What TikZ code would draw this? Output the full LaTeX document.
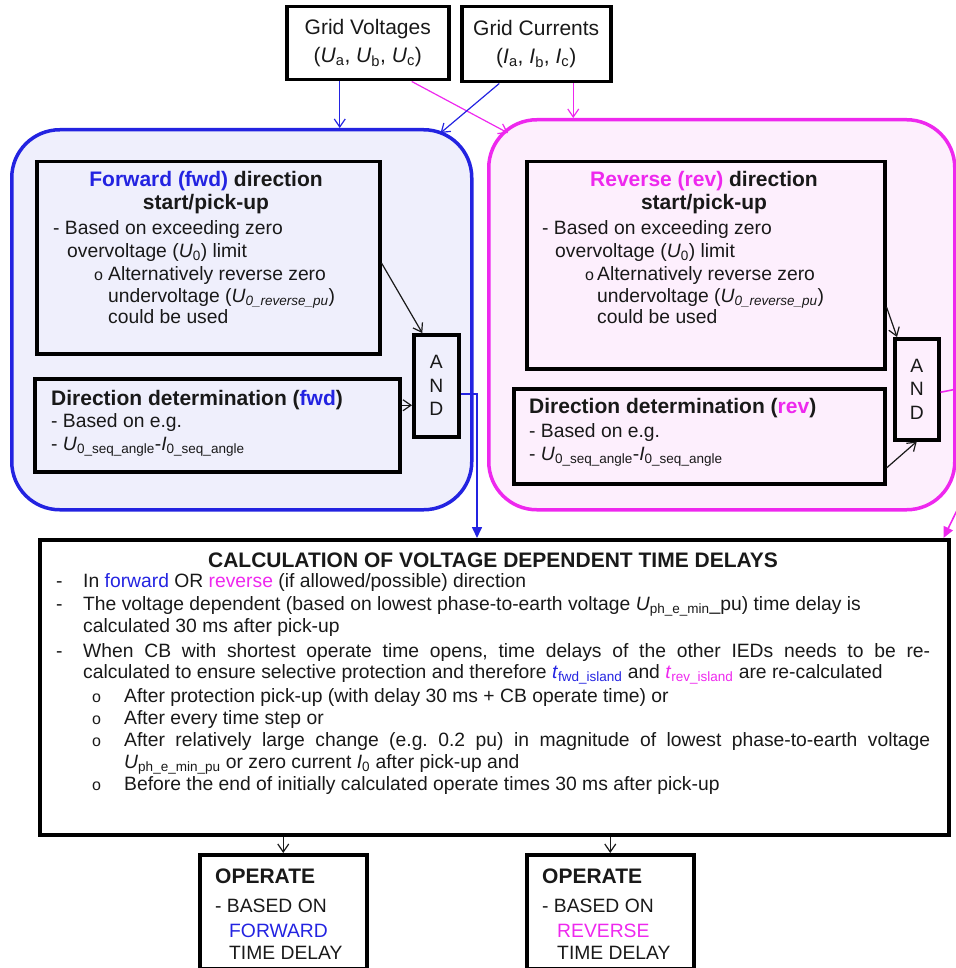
\documentclass[tikz,border=0pt]{standalone}
\usepackage{fontspec}
\setmainfont{Liberation Sans}
\usetikzlibrary{arrows.meta}
\definecolor{fwdblue}{RGB}{35,35,225}
\definecolor{revmag}{RGB}{238,40,238}
\definecolor{fwdfill}{RGB}{239,239,252}
\definecolor{revfill}{RGB}{253,239,253}
\definecolor{ink}{RGB}{25,25,25}
\newcommand\rgsize{\fontsize{19.3}{22.5}\selectfont}
\newcommand\hdsize{\fontsize{21}{23}\selectfont}
\newcommand\fw[1]{\textcolor{fwdblue}{#1}}
\newcommand\rv[1]{\textcolor{revmag}{#1}}
\newcommand\obul{{\fontsize{16}{16}\selectfont o}}
\frenchspacing
\begin{document}
\begin{tikzpicture}[x=1pt,y=-1pt,
  blk/.style={draw=black, line width=3.5pt, inner sep=0pt, anchor=north west},
  grp/.style={line width=3.5pt, rounded corners=48pt, inner sep=0pt, anchor=north west},
  txt/.style={anchor=base west, inner sep=0pt, font=\rgsize, text=ink},
  hd/.style={anchor=base, inner sep=0pt, font=\hdsize\bfseries, text=ink},
  link/.style={line width=1.2pt, -{Straight Barb[length=8pt,width=11pt]}},
  outlink/.style={line width=1.6pt, -{Triangle[length=11pt,width=10pt]}},
]
\useasboundingbox (0,0) rectangle (955,968);

% group frames
\node[grp, draw=fwdblue, fill=fwdfill, minimum width=460pt, minimum height=380pt] (fgrp) at (10,128) {};
\node[grp, draw=revmag, fill=revfill, minimum width=466pt, minimum height=390pt] (rgrp) at (487,118) {};

% input boxes
\node[blk, minimum width=162pt, minimum height=73pt, align=center, font=\fontsize{21}{28}\selectfont, text=ink] (gv) at (285,5)
  {Grid Voltages\\(\textit{U}\textsubscript{a}, \textit{U}\textsubscript{b}, \textit{U}\textsubscript{c})};
\node[blk, minimum width=149pt, minimum height=75pt, align=center, font=\fontsize{21}{28}\selectfont, text=ink] (gc) at (460,5)
  {Grid Currents\\(\textit{I}\textsubscript{a}, \textit{I}\textsubscript{b}, \textit{I}\textsubscript{c})};

% forward branch
\node[blk, minimum width=343pt, minimum height=192pt] (fstart) at (35,160) {};
\node[blk, minimum width=365pt, minimum height=93pt] (fdir) at (33,377) {};
\node[blk, minimum width=45pt, minimum height=102pt, align=center, font=\fontsize{19.3}{23.5}\selectfont, text=ink] (fand) at (412,333) {A\\N\\D};

\node[hd] (fh1) at (206,187) {\fw{Forward (fwd)} direction};
\node[hd] (fh2) at (206,210) {start/pick-up};
\node[txt] (fa1) at (53,235) {- Based on exceeding zero};
\node[txt] (fa2) at (67,257) {overvoltage (\textit{U}\textsubscript{0}) limit};
\node[txt] (fab) at (94,280) {\obul};
\node[txt] (fa3) at (108,280) {Alternatively reverse zero};
\node[txt] (fa4) at (108,302) {undervoltage (\textit{U}\textsubscript{\textit{0\_reverse\_pu}})};
\node[txt] (fa5) at (108,323) {could be used};

\node[hd, anchor=base west] (fd1) at (51,405) {Direction determination (\fw{fwd})};
\node[txt] (fd2) at (51,427) {- Based on e.g.};
\node[txt] (fd3) at (51,450) {- \textit{U}\textsubscript{0\_seq\_angle}-\textit{I}\textsubscript{0\_seq\_angle}};

% reverse branch
\node[blk, minimum width=358pt, minimum height=207pt] (rstart) at (525,160) {};
\node[blk, minimum width=371pt, minimum height=95pt] (rdir) at (512,387) {};
\node[blk, minimum width=44pt, minimum height=101pt, align=center, font=\fontsize{19.3}{23.5}\selectfont, text=ink] (rand) at (893,337) {A\\N\\D};

\node[hd] (rh1) at (704,187) {\rv{Reverse (rev)} direction};
\node[hd] (rh2) at (704,210) {start/pick-up};
\node[txt] (ra1) at (542,235) {- Based on exceeding zero};
\node[txt] (ra2) at (555,257) {overvoltage (\textit{U}\textsubscript{0}) limit};
\node[txt] (rab) at (585,280) {\obul};
\node[txt] (ra3) at (597,280) {Alternatively reverse zero};
\node[txt] (ra4) at (597,302) {undervoltage (\textit{U}\textsubscript{\textit{0\_reverse\_pu}})};
\node[txt] (ra5) at (597,323) {could be used};

\node[hd, anchor=base west] (rd1) at (529,413) {Direction determination (\rv{rev})};
\node[txt] (rd2) at (529,437) {- Based on e.g.};
\node[txt] (rd3) at (529,460) {- \textit{U}\textsubscript{0\_seq\_angle}-\textit{I}\textsubscript{0\_seq\_angle}};

% calculation block
\node[blk, minimum width=909pt, minimum height=295pt] (calc) at (38,538) {};
\node[hd] (ct) at (493,567) {CALCULATION OF VOLTAGE DEPENDENT TIME DELAYS};
\node[txt] (cb1) at (56,587) {-};
\node[txt] (cb2) at (56,610) {-};
\node[txt] (cb3) at (56,657) {-};
\node[txt] (c1) at (83,587) {In \fw{forward} OR \rv{reverse} (if allowed/possible) direction};
\node[txt] (c2) at (83,610) {The voltage dependent (based on lowest phase-to-earth voltage \textit{U}\textsubscript{ph\_e\_min}\_pu) time delay is};
\node[txt] (c3) at (83,632) {calculated 30 ms after pick-up};
\node[txt] (c4) at (83,657) {\makebox[847pt][s]{When CB with shortest operate time opens, time delays of the other IEDs needs to be re-}};
\node[txt] (c5) at (83,678) {calculated to ensure selective protection and therefore \fw{\textit{t}\textsubscript{fwd\_island}} and \rv{\textit{t}\textsubscript{rev\_island}} are re-calculated};
\node[txt] (cs1) at (92,702) {\obul};
\node[txt] (cs2) at (92,724) {\obul};
\node[txt] (cs3) at (92,746) {\obul};
\node[txt] (cs4) at (92,790) {\obul};
\node[txt] (c6) at (124,702) {After protection pick-up (with delay 30 ms + CB operate time) or};
\node[txt] (c7) at (124,724) {After every time step or};
\node[txt] (c8) at (124,746) {\makebox[806pt][s]{After relatively large change (e.g. 0.2 pu) in magnitude of lowest phase-to-earth voltage}};
\node[txt] (c9) at (124,768) {\textit{U}\textsubscript{ph\_e\_min\_pu} or zero current \textit{I}\textsubscript{0} after pick-up and};
\node[txt] (c10) at (124,790) {Before the end of initially calculated operate times 30 ms after pick-up};

% operate blocks
\node[blk, minimum width=167pt, minimum height=114pt] (op1) at (198,853) {};
\node[txt, font=\hdsize\bfseries] (o1a) at (215,883) {OPERATE};
\node[txt] (o1b) at (215,912) {- BASED ON};
\node[txt] (o1c) at (229,937) {\fw{FORWARD}};
\node[txt] (o1d) at (229,959) {TIME DELAY};
\node[blk, minimum width=167pt, minimum height=114pt] (op2) at (525,853) {};
\node[txt, font=\hdsize\bfseries] (o2a) at (542,883) {OPERATE};
\node[txt] (o2b) at (542,912) {- BASED ON};
\node[txt] (o2c) at (557,937) {\rv{REVERSE}};
\node[txt] (o2d) at (557,959) {TIME DELAY};

% signal inputs
\draw[link, draw=fwdblue] ([xshift=-28pt]gv.south) -- ([xshift=-28pt]gv.south |- fgrp.north);
\draw[link, draw=revmag] ([xshift=44pt]gv.south) -- ([xshift=21pt,yshift=-15pt]rgrp.north west);
\draw[link, draw=fwdblue] ([xshift=-37pt]gc.south) -- ([xshift=-33pt,yshift=-5pt]fgrp.north east);
\draw[link, draw=revmag] ([xshift=37pt]gc.south) -- ([xshift=37pt]gc.south |- rgrp.north);

% AND inputs
\draw[link, draw=ink] ([yshift=-103pt]fstart.north east) -- ([xshift=-14pt]fand.north);
\draw[link, draw=ink] ([yshift=20pt]fdir.east) -- ([yshift=20pt]fdir.east -| fand.west);
\draw[link, draw=ink] ([yshift=-147pt]rstart.north east) -- ([xshift=4pt]rand.north west);
\draw[link, draw=ink] ([yshift=-81pt]rdir.north east) -- (rand.south);

% AND outputs
\draw[outlink, draw=fwdblue] ([yshift=-8pt]fand.east) -| ([xshift=439pt]calc.north west);
\coordinate (rbend1) at (962,388);
\coordinate (rbend2) at (962,500);
\draw[outlink, draw=revmag] ([yshift=-3pt]rand.east) -- (rbend1) -- (rbend2) -- ([xshift=-7pt]calc.north east);

% operate outputs
\draw[link, draw=ink] (op1.north |- calc.south) -- (op1.north);
\draw[link, draw=ink] (op2.north |- calc.south) -- (op2.north);
\end{tikzpicture}
\end{document}
